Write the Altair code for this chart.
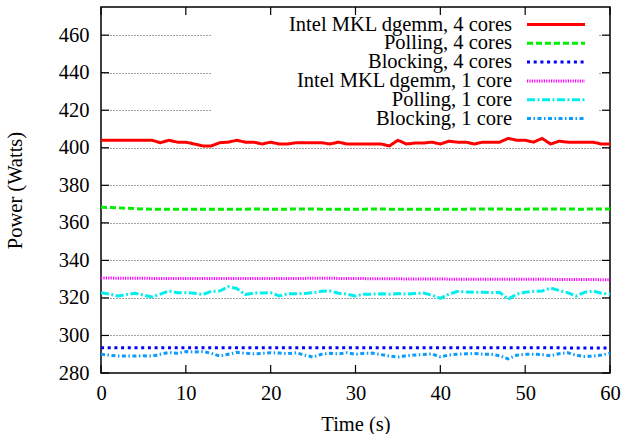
import altair as alt
import pandas as pd

time_s = list(range(61))

series_names = [
    "Intel MKL dgemm, 4 cores",
    "Polling, 4 cores",
    "Blocking, 4 cores",
    "Intel MKL dgemm, 1 core",
    "Polling, 1 core",
    "Blocking, 1 core",
]

mkl_4 = [404, 404, 404, 404, 404, 404, 404, 402.7, 404, 403,
         403, 402, 401, 401, 402.7, 403, 404, 403, 403, 402,
         403, 402, 402, 402.7, 402.7, 402.7, 402.7, 402, 403, 402,
         402, 402, 402, 402, 401, 404, 402, 402.5, 402.5, 403,
         402, 403.5, 403, 403, 402, 403, 403, 403, 405, 404,
         404, 403, 405, 402, 403.5, 403, 403, 403, 403, 402,
         402]
polling_4 = [368.3, 368.2, 368.0, 367.8, 367.6, 367.4, 367.3, 367.3, 367.2, 367.2,
             367.3, 367.3, 367.3, 367.2, 367.3, 367.3, 367.3, 367.3, 367.4, 367.3,
             367.3, 367.3, 367.3, 367.4, 367.4, 367.4, 367.3, 367.3, 367.3, 367.3,
             367.3, 367.3, 367.4, 367.4, 367.3, 367.3, 367.3, 367.2, 367.2, 367.3,
             367.3, 367.3, 367.3, 367.3, 367.4, 367.4, 367.4, 367.4, 367.3, 367.3,
             367.3, 367.4, 367.4, 367.4, 367.4, 367.4, 367.3, 367.3, 367.4, 367.4,
             367.4]
blocking_4 = [293.5, 293.5, 293.5, 293.5, 293.5, 293.5, 293.5, 293.5, 293.5, 293.5,
              293.5, 293.5, 293.5, 293.5, 293.5, 293.5, 293.4, 293.5, 293.5, 293.5,
              293.5, 293.5, 293.5, 293.5, 293.5, 293.5, 293.5, 293.5, 293.5, 293.5,
              293.5, 293.5, 293.5, 293.4, 293.4, 293.4, 293.4, 293.4, 293.4, 293.4,
              293.4, 293.4, 293.4, 293.4, 293.4, 293.4, 293.4, 293.4, 293.4, 293.4,
              293.4, 293.4, 293.4, 293.4, 293.4, 293.3, 293.3, 293.3, 293.3, 293.3,
              293.3]
mkl_1 = [330.6, 330.6, 330.5, 330.5, 330.5, 330.5, 330.4, 330.4, 330.4, 330.4,
         330.4, 330.4, 330.4, 330.4, 330.4, 330.4, 330.4, 330.4, 330.4, 330.4,
         330.4, 330.4, 330.4, 330.4, 330.4, 330.5, 330.5, 330.5, 330.4, 330.4,
         330.3, 330.3, 330.2, 330.2, 330.2, 330.2, 330.1, 330.1, 330.1, 330.1,
         330.1, 330.0, 330.0, 330.0, 330.0, 330.0, 330.0, 330.0, 329.9, 329.9,
         329.9, 329.9, 329.9, 329.9, 329.8, 329.8, 329.8, 329.8, 329.8, 329.7,
         329.7]
polling_1 = [322.8, 322.0, 321.0, 321.8, 322.5, 321.5, 320.5, 322.0, 323.7, 322.8,
             322.8, 322.5, 321.8, 323.5, 323.7, 326.0, 325.0, 321.8, 322.6, 322.6,
             322.8, 321.1, 322.2, 322.2, 322.4, 322.8, 323.5, 323.7, 322.5, 322.0,
             321.0, 322.0, 322.0, 322.2, 322.0, 322.3, 322.0, 322.4, 322.6, 321.5,
             319.8, 322.0, 323.4, 323.2, 323.0, 323.0, 322.8, 323.0, 319.3, 322.0,
             323.0, 323.5, 323.7, 325.2, 324.0, 322.8, 321.0, 323.0, 323.7, 322.5,
             322.0]
blocking_1 = [290.0, 289.5, 289.0, 289.0, 289.0, 289.2, 289.0, 290.0, 290.9, 290.5,
              291.4, 291.2, 291.4, 290.5, 289.0, 290.0, 291.0, 290.5, 290.2, 290.5,
              290.8, 290.6, 290.3, 290.8, 289.5, 288.5, 290.0, 290.5, 290.2, 290.8,
              290.0, 290.5, 290.6, 289.8, 289.0, 288.5, 289.2, 289.6, 289.8, 290.2,
              288.6, 289.6, 290.0, 290.2, 290.4, 290.0, 290.0, 289.2, 287.5, 289.5,
              290.0, 290.0, 289.8, 289.2, 290.3, 290.8, 289.5, 288.8, 289.0, 289.6,
              290.5]

series_values = [mkl_4, polling_4, blocking_4, mkl_1, polling_1, blocking_1]
series_colors = ["#ff0000", "#00ee00", "#0000ff", "#ff00ff", "#00eeee", "#0a9cff"]
series_dashes = [[1, 0], [6, 3], [3, 3.7], [1.2, 1.2], [8, 2.5, 2, 2.5], [4, 2.5, 1.5, 2.5]]

y_ticks = [280, 300, 320, 340, 360, 380, 400, 420, 440, 460]
x_ticks = [0, 10, 20, 30, 40, 50, 60]

W, H = 509, 366
FONT = "Liberation Serif, Times New Roman, Times, DejaVu Serif, serif"
FS = 20.5

rows = []
for name, vals in zip(series_names, series_values):
    for t, v in zip(time_s, vals):
        rows.append({"time": t, "power": v, "series": name})
df = pd.DataFrame(rows)

xs = alt.Scale(domain=[0, 60], nice=False, zero=False)
ys = alt.Scale(domain=[280, 475], nice=False, zero=False)
color_scale = alt.Scale(domain=series_names, range=series_colors)
dash_scale = alt.Scale(domain=series_names, range=series_dashes)

lines = alt.Chart(df).mark_line(strokeWidth=3, strokeCap="butt", strokeJoin="round").encode(
    x=alt.X("time:Q", scale=xs, axis=alt.Axis(
        values=x_ticks, title="Time (s)", labelFlush=False, labelOverlap=False,
        labelBaseline="alphabetic", labelPadding=26,
        titleX=W / 2, titleY=57, titleBaseline="alphabetic", titleAlign="center")),
    y=alt.Y("power:Q", scale=ys, axis=alt.Axis(
        values=y_ticks, title="Power (Watts)", grid=True, gridDash=[1, 2],
        gridColor="#444444", gridWidth=1, labelPadding=12, labelOverlap=False,
        titleX=-80, titleY=H / 2, titleBaseline="alphabetic", titleAlign="center",
        titleAngle=270)),
    color=alt.Color("series:N", sort=series_names, scale=color_scale, legend=None),
    strokeDash=alt.StrokeDash("series:N", sort=series_names, scale=dash_scale, legend=None),
)

# opaque key area (gnuplot key hides the grid behind it)
key_box = alt.Chart(pd.DataFrame({"k": [0]})).mark_rect(fill="white").encode(
    x=alt.value(111), x2=alt.value(498), y=alt.value(1), y2=alt.value(123))

ytick_df = pd.DataFrame({"v": y_ticks})
xtick_df = pd.DataFrame({"t": x_ticks})
TL = 8
left_ticks = alt.Chart(ytick_df).mark_rule(color="black", strokeWidth=1.2).encode(
    y=alt.Y("v:Q", scale=ys), x=alt.value(0), x2=alt.value(TL))
right_ticks = alt.Chart(ytick_df).mark_rule(color="black", strokeWidth=1.2).encode(
    y=alt.Y("v:Q", scale=ys), x=alt.value(W - TL), x2=alt.value(W))
bottom_ticks = alt.Chart(xtick_df).mark_rule(color="black", strokeWidth=1.2).encode(
    x=alt.X("t:Q", scale=xs), y=alt.value(H), y2=alt.value(H - TL))
top_ticks = alt.Chart(xtick_df).mark_rule(color="black", strokeWidth=1.2).encode(
    x=alt.X("t:Q", scale=xs), y=alt.value(0), y2=alt.value(TL))

main = alt.layer(key_box, lines, left_ticks, right_ticks, bottom_ticks, top_ticks)

# gnuplot-style key: right-aligned labels with the line sample to their right
key_df = pd.DataFrame({"series": series_names, "row": list(range(len(series_names)))})
row_scale = alt.Scale(type="point", domain=list(range(len(series_names))),
                      range=[17.5, 111.5], padding=0)
key_text = alt.Chart(key_df).mark_text(
    align="right", baseline="middle", font=FONT, fontSize=FS, color="black"
).encode(
    y=alt.Y("row:O", scale=row_scale, axis=None),
    x=alt.value(411),
    text="series:N",
)
key_lines = alt.Chart(key_df).mark_rule(strokeWidth=3, strokeCap="butt").encode(
    y=alt.Y("row:O", scale=row_scale, axis=None),
    x=alt.value(426), x2=alt.value(484),
    color=alt.Color("series:N", scale=color_scale, legend=None),
    strokeDash=alt.StrokeDash("series:N", scale=dash_scale, legend=None),
)
key = alt.layer(key_text, key_lines)

chart = alt.layer(main, key).resolve_scale(y="independent").properties(
    width=W, height=H,
    padding={"left": 101, "top": 7, "right": 15, "bottom": 61},
    autosize=alt.AutoSizeParams(type="none"),
).configure_view(
    stroke="black", strokeWidth=1.5
).configure_axis(
    labelFont=FONT, labelFontSize=FS, labelColor="black",
    titleFont=FONT, titleFontSize=FS, titleColor="black", titleFontWeight="normal",
    domain=False, ticks=False, tickSize=0,
).configure_axisX(grid=False)

chart.save("out.html", embed_options={"renderer": "svg", "actions": False})
